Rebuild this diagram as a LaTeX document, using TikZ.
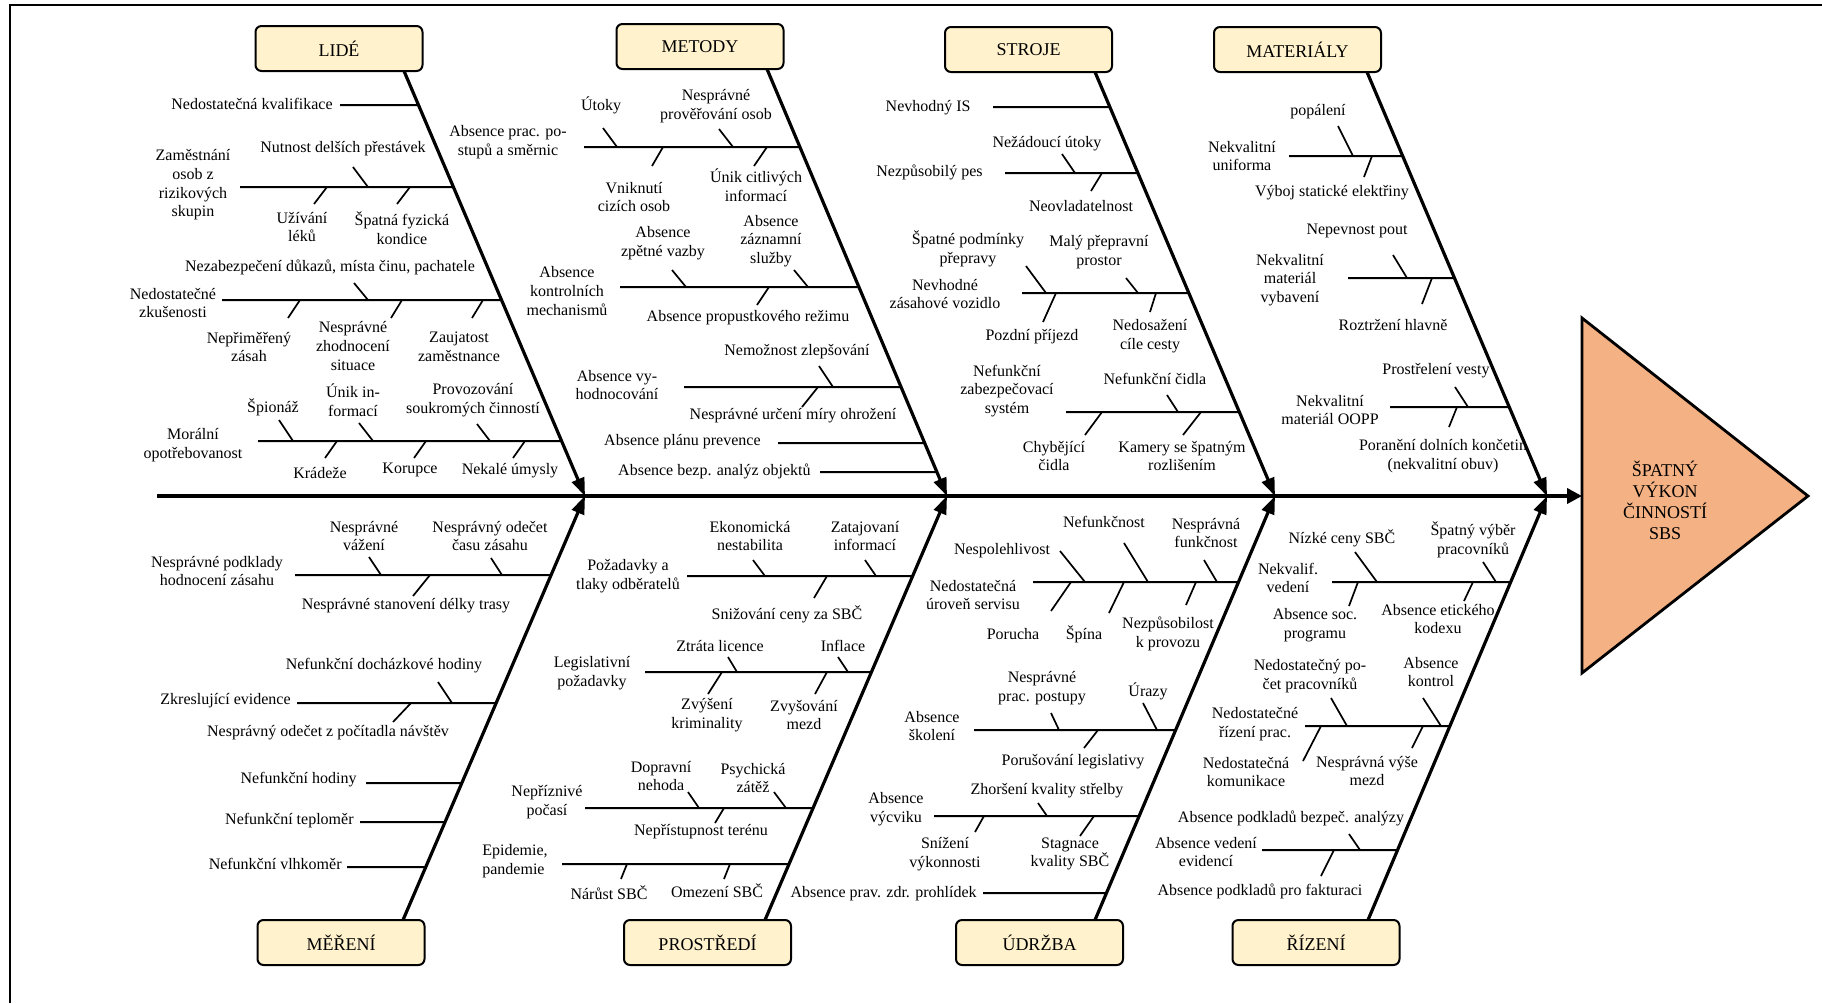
\documentclass[tikz,border=0pt]{standalone}
\usepackage{fontspec}
\setmainfont{Liberation Serif}
\usetikzlibrary{arrows.meta}
\definecolor{boxfill}{HTML}{FFF2CC}
\definecolor{headfill}{HTML}{F4B183}
\newcommand\subbone[3]{\draw[sub] (#1,#2) -- (intersection of #1,#2--1900,#2 and #3);}
\begin{document}
\begin{tikzpicture}[x=0.5pt,y=-0.5pt,
 lab/.style={inner sep=0pt, align=center, font=\fontsize{8}{9.35}\selectfont},
 cat/.style={draw=black, line width=1pt, rounded corners=3pt, fill=boxfill, minimum width=83.5pt, minimum height=22.5pt, inner sep=0pt, font=\fontsize{9}{10.5}\selectfont},
 bone/.style={line width=1.6pt, -{Triangle[length=9pt,width=6.5pt]}},
 spine/.style={line width=2.1pt, -{Triangle[length=7.5pt,width=7.5pt]}},
 sub/.style={line width=1pt},
 tick/.style={line width=0.85pt},
]
\useasboundingbox (0,0) rectangle (1822,1003);
\draw[line width=1pt] (10,1003) -- (10,5) -- (1822,5);

% head
\draw[line width=1.4pt, fill=headfill] (1582,318) -- (1808,496) -- (1582,673) -- cycle;
\node[font=\fontsize{9}{10.5}\selectfont, align=center, inner sep=0pt] (headtxt) at (1665,500) {ŠPATNÝ\\VÝKON\\ČINNOSTÍ\\SBS};

% spine
\coordinate (sp0) at (157,496);
\coordinate (headW) at (1582,496);
\draw[spine] (sp0) -- (headW);

% bone coordinates
\coordinate (lA) at (404,71);   \coordinate (lT) at (585,496);
\coordinate (mA) at (767,69);   \coordinate (mT) at (947,496);
\coordinate (sA) at (1095,72);  \coordinate (sT) at (1275,496);
\coordinate (tA) at (1367,72);  \coordinate (tT) at (1547,496);
\coordinate (eA) at (403,920);  \coordinate (eT) at (585,496);
\coordinate (pA) at (765,920);  \coordinate (pT) at (947,496);
\coordinate (uA) at (1095,920); \coordinate (uT) at (1275,496);
\coordinate (rA) at (1368,920); \coordinate (rT) at (1547,496);

\draw[bone] (lA) -- (lT);
\draw[bone] (mA) -- (mT);
\draw[bone] (sA) -- (sT);
\draw[bone] (tA) -- (tT);
\draw[bone] (eA) -- (eT);
\draw[bone] (pA) -- (pT);
\draw[bone] (uA) -- (uT);
\draw[bone] (rA) -- (rT);

% category boxes
\node[cat] (lide) at (339,48.5) {LIDÉ};
\node[cat] (metody) at (700,46.5) {METODY};
\node[cat] (stroje) at (1028.5,49.5) {STROJE};
\node[cat] (material) at (1297.5,49.5) {MATERIÁLY};
\node[cat] (mereni) at (341,942.5) {MĚŘENÍ};
\node[cat] (prostredi) at (707.5,942.5) {PROSTŘEDÍ};
\node[cat] (udrzba) at (1039.5,942.5) {ÚDRŽBA};
\node[cat] (rizeni) at (1316,942.5) {ŘÍZENÍ};

% ===== LIDÉ =====
\subbone{340}{105}{lA--lT}
\node[lab,anchor=east] (l1) at (333,104) {Nedostatečná kvalifikace};
\subbone{240}{187}{lA--lT}
\node[lab] (l2) at (193,185) {Zaměstnání\\osob z\\rizikových\\skupin};
\draw[tick] (353,167) -- (368,187); \node[lab] (l2a) at (343,149) {Nutnost delších přestávek};
\draw[tick] (327,187) -- (314,204); \node[lab] (l2b) at (302,227) {Užívání\\léků};
\draw[tick] (410,187) -- (397,204); \node[lab] (l2c) at (402,228) {Špatná fyzická\\kondice};
\subbone{222}{300}{lA--lT}
\node[lab] (l3) at (173,303) {Nedostatečné\\zkušenosti};
\draw[tick] (354,283) -- (368,300); \node[lab] (l3a) at (330,267) {Nezabezpečení důkazů, místa činu, pachatele};
\draw[tick] (300,300) -- (288,318); \node[lab] (l3b) at (249,347) {Nepřiměřený\\zásah};
\draw[tick] (402,300) -- (391,318); \node[lab] (l3c) at (353,346) {Nesprávné\\zhodnocení\\situace};
\draw[tick] (483,300) -- (472,318); \node[lab] (l3d) at (459,347) {Zaujatost\\zaměstnance};
\subbone{258}{441}{lA--lT}
\node[lab] (l4) at (193,445) {Morální\\opotřebovanost};
\draw[tick] (279,420) -- (293,441); \node[lab] (l4a) at (273,407) {Špionáž};
\draw[tick] (359,423) -- (373,441); \node[lab] (l4b) at (353,400) {Únik in-\\formací};
\draw[tick] (477,424) -- (490,441); \node[lab] (l4c) at (473,400) {Provozování\\soukromých činností};
\draw[tick] (337,441) -- (325,458); \node[lab] (l4d) at (320,473) {Krádeže};
\draw[tick] (426,441) -- (414,458); \node[lab] (l4e) at (410,470) {Korupce};
\draw[tick] (525,441) -- (513,458); \node[lab] (l4f) at (510,471) {Nekalé úmysly};

% ===== METODY =====
\subbone{584}{147}{mA--mT}
\node[lab] (m1) at (508,142) {Absence prac. po-\\stupů a směrnic};
\draw[tick] (603,128) -- (617,147); \node[lab] (m1a) at (601,105) {Útoky};
\draw[tick] (719,129) -- (733,147); \node[lab] (m1b) at (716,106) {Nesprávné\\prověřování osob};
\draw[tick] (663,147) -- (652,166); \node[lab] (m1c) at (634,197) {Vniknutí\\cizích osob};
\draw[tick] (767,147) -- (754,166); \node[lab] (m1d) at (756,185) {Únik citlivých\\informací};
\subbone{620}{287}{mA--mT}
\node[lab] (m2) at (567,291) {Absence\\kontrolních\\mechanismů};
\draw[tick] (672,270) -- (686,287); \node[lab] (m2a) at (663,243) {Absence\\zpětné vazby};
\draw[tick] (794,270) -- (808,287); \node[lab] (m2b) at (771,241) {Absence\\záznamní\\služby};
\draw[tick] (769,287) -- (757,305); \node[lab] (m2c) at (748,318) {Absence propustkového režimu};
\subbone{684}{387}{mA--mT}
\node[lab] (m3) at (617,385) {Absence vy-\\hodnocování};
\draw[tick] (819,366) -- (833,387); \node[lab] (m3a) at (797,352) {Nemožnost zlepšování};
\draw[tick] (818,387) -- (802,407); \node[lab] (m3b) at (793,416) {Nesprávné určení míry ohrožení};
\subbone{778}{443}{mA--mT}
\node[lab,anchor=east] (m4) at (761,442) {Absence plánu prevence};
\subbone{820}{472}{mA--mT}
\node[lab,anchor=east] (m5) at (811,471) {Absence bezp. analýz objektů};

% ===== STROJE =====
\subbone{993}{107}{sA--sT}
\node[lab,anchor=east] (s1) at (971,108) {Nevhodný IS};
\subbone{1005}{173}{sA--sT}
\node[lab,anchor=east] (s2) at (983,172) {Nezpůsobilý pes};
\draw[tick] (1062,154) -- (1075,173); \node[lab] (s2a) at (1047,144) {Nežádoucí útoky};
\draw[tick] (1102,173) -- (1091,191); \node[lab] (s2b) at (1081,206) {Neovladatelnost};
\subbone{1022}{293}{sA--sT}
\node[lab] (s3) at (945,294) {Nevhodné\\zásahové vozidlo};
\draw[tick] (1026,266) -- (1046,293); \node[lab] (s3a) at (968,249) {Špatné podmínky\\přepravy};
\draw[tick] (1126,278) -- (1138,293); \node[lab] (s3b) at (1099,252) {Malý přepravní\\prostor};
\draw[tick] (1056,293) -- (1043,322); \node[lab] (s3c) at (1032,337) {Pozdní příjezd};
\draw[tick] (1156,293) -- (1150,312); \node[lab] (s3d) at (1150,336) {Nedosažení\\cíle cesty};
\subbone{1066}{412}{sA--sT}
\node[lab] (s4) at (1007,391) {Nefunkční\\zabezpečovací\\systém};
\draw[tick] (1167,395) -- (1178,412); \node[lab] (s4a) at (1155,379) {Nefunkční čidla};
\draw[tick] (1102,412) -- (1085,435); \node[lab] (s4b) at (1054,456) {Chybějící\\čidla};
\draw[tick] (1201,412) -- (1183,435); \node[lab] (s4c) at (1182,456) {Kamery se špatným\\rozlišením};

% ===== MATERIÁLY =====
\subbone{1289}{156}{tA--tT}
\node[lab] (t1) at (1242,156) {Nekvalitní\\uniforma};
\draw[tick] (1338,126) -- (1353,156); \node[lab] (t1a) at (1318,112) {popálení};
\draw[tick] (1372,156) -- (1364,177); \node[lab] (t1b) at (1332,193) {Výboj statické elektřiny};
\subbone{1348}{278}{tA--tT}
\node[lab] (t2) at (1290,280) {Nekvalitní\\materiál\\vybavení};
\draw[tick] (1393,255) -- (1407,278); \node[lab] (t2a) at (1357,231) {Nepevnost pout};
\draw[tick] (1432,278) -- (1422,304); \node[lab] (t2b) at (1393,325) {Roztržení hlavně};
\subbone{1390}{407}{tA--tT}
\node[lab] (t3) at (1330,410) {Nekvalitní\\materiál OOPP};
\draw[tick] (1455,387) -- (1468,407); \node[lab] (t3a) at (1436,371) {Prostřelení vesty};
\draw[tick] (1457,407) -- (1449,427); \node[lab] (t3b) at (1443,456) {Poranění dolních končetin\\(nekvalitní obuv)};

% ===== MĚŘENÍ =====
\subbone{295}{575}{eA--eT}
\node[lab] (e1) at (217,571) {Nesprávné podklady\\hodnocení zásahu};
\draw[tick] (369,557) -- (381,575); \node[lab] (e1a) at (364,536) {Nesprávné\\vážení};
\draw[tick] (491,558) -- (502,575); \node[lab] (e1b) at (490,536) {Nesprávný odečet\\času zásahu};
\draw[tick] (430,575) -- (413,596); \node[lab] (e1c) at (406,606) {Nesprávné stanovení délky trasy};
\subbone{297}{703}{eA--eT}
\node[lab,anchor=east] (e2) at (291,701) {Zkreslující evidence};
\draw[tick] (438,682) -- (452,703); \node[lab] (e2a) at (384,666) {Nefunkční docházkové hodiny};
\draw[tick] (411,703) -- (393,722); \node[lab] (e2b) at (328,733) {Nesprávný odečet z počítadla návštěv};
\subbone{366}{783}{eA--eT}
\node[lab,anchor=east] (e3) at (357,780) {Nefunkční hodiny};
\subbone{360}{822}{eA--eT}
\node[lab,anchor=east] (e4) at (354,821) {Nefunkční teploměr};
\subbone{347}{867}{eA--eT}
\node[lab,anchor=east] (e5) at (342,864) {Nefunkční vlhkoměr};

% ===== PROSTŘEDÍ =====
\subbone{687}{576}{pA--pT}
\node[lab] (p1) at (628,576) {Požadavky a\\tlaky odběratelů};
\draw[tick] (753,560) -- (765,576); \node[lab] (p1a) at (750,536) {Ekonomická\\nestabilita};
\draw[tick] (865,560) -- (876,576); \node[lab] (p1b) at (865,536) {Zatajovaní\\informací};
\draw[tick] (827,576) -- (814,598); \node[lab] (p1c) at (787,614) {Snižování ceny za SBČ};
\subbone{645}{672}{pA--pT}
\node[lab] (p2) at (592,673) {Legislativní\\požadavky};
\draw[tick] (728,657) -- (737,672); \node[lab] (p2a) at (720,646) {Ztráta licence};
\draw[tick] (838,657) -- (848,672); \node[lab] (p2b) at (843,646) {Inflace};
\draw[tick] (722,672) -- (708,694); \node[lab] (p2c) at (707,715) {Zvýšení\\kriminality};
\draw[tick] (827,672) -- (815,694); \node[lab] (p2d) at (804,715) {Zvyšování\\mezd};
\subbone{585}{808}{pA--pT}
\node[lab] (p3) at (547,802) {Nepříznivé\\počasí};
\draw[tick] (688,792) -- (699,808); \node[lab] (p3a) at (661,776) {Dopravní\\nehoda};
\draw[tick] (774,792) -- (786,808); \node[lab] (p3b) at (753,778) {Psychická\\zátěž};
\draw[tick] (724,808) -- (715,823); \node[lab] (p3c) at (701,832) {Nepřístupnost terénu};
\subbone{562}{864}{pA--pT}
\node[lab,align=left] (p4) at (515,861) {Epidemie,\\pandemie};
\draw[tick] (627,864) -- (621,879); \node[lab] (p4a) at (609,893) {Nárůst SBČ};
\draw[tick] (730,864) -- (724,879); \node[lab] (p4b) at (717,891) {Omezení SBČ};

% ===== ÚDRŽBA =====
\subbone{1033}{582}{uA--uT}
\node[lab] (u1) at (973,595) {Nedostatečná\\úroveň servisu};
\draw[tick] (1060,551) -- (1085,582); \node[lab] (u1a) at (1002,551) {Nespolehlivost};
\draw[tick] (1124,543) -- (1148,582); \node[lab] (u1b) at (1104,522) {Nefunkčnost};
\draw[tick] (1204,560) -- (1217,582); \node[lab] (u1c) at (1206,533) {Nesprávná\\funkčnost};
\draw[tick] (1071,582) -- (1051,611); \node[lab] (u1d) at (1013,634) {Porucha};
\draw[tick] (1124,582) -- (1109,613); \node[lab] (u1e) at (1084,634) {Špína};
\draw[tick] (1196,582) -- (1186,605); \node[lab] (u1f) at (1168,634) {Nezpůsobilost\\k provozu};
\subbone{974}{730}{uA--uT}
\node[lab] (u2) at (932,726) {Absence\\školení};
\draw[tick] (1051,713) -- (1059,730); \node[lab] (u2a) at (1042,688) {Nesprávné\\prac. postupy};
\draw[tick] (1143,703) -- (1157,730); \node[lab] (u2b) at (1148,691) {Úrazy};
\draw[tick] (1098,730) -- (1084,748); \node[lab] (u2c) at (1073,762) {Porušování legislativy};
\subbone{934}{816}{uA--uT}
\node[lab] (u3) at (896,809) {Absence\\výcviku};
\draw[tick] (1038,803) -- (1047,816); \node[lab] (u3a) at (1047,791) {Zhoršení kvality střelby};
\draw[tick] (984,816) -- (975,832); \node[lab] (u3b) at (945,854) {Snížení\\výkonnosti};
\draw[tick] (1094,816) -- (1080,836); \node[lab] (u3c) at (1070,854) {Stagnace\\kvality SBČ};
\subbone{983}{893}{uA--uT}
\node[lab,anchor=east] (u4) at (977,894) {Absence prav. zdr. prohlídek};

% ===== ŘÍZENÍ =====
\subbone{1332}{582}{rA--rT}
\node[lab] (r1) at (1288,578) {Nekvalif.\\vedení};
\draw[tick] (1355,552) -- (1377,582); \node[lab] (r1a) at (1342,538) {Nízké ceny SBČ};
\draw[tick] (1483,562) -- (1496,582); \node[lab] (r1b) at (1473,540) {Špatný výběr\\pracovníků};
\draw[tick] (1358,582) -- (1349,606); \node[lab] (r1c) at (1315,625) {Absence soc.\\programu};
\draw[tick] (1473,582) -- (1464,601); \node[lab] (r1d) at (1438,619) {Absence etického\\kodexu};
\subbone{1305}{726}{rA--rT}
\node[lab] (r2) at (1255,724) {Nedostatečné\\řízení prac.};
\draw[tick] (1331,698) -- (1347,726); \node[lab] (r2a) at (1310,676) {Nedostatečný po-\\čet pracovníků};
\draw[tick] (1423,698) -- (1441,726); \node[lab] (r2b) at (1431,672) {Absence\\kontrol};
\draw[tick] (1321,726) -- (1303,761); \node[lab] (r2c) at (1246,772) {Nedostatečná\\komunikace};
\draw[tick] (1423,726) -- (1412,748); \node[lab] (r2d) at (1367,771) {Nesprávná výše\\mezd};
\subbone{1262}{850}{rA--rT}
\node[lab] (r3) at (1206,852) {Absence vedení\\evidencí};
\draw[tick] (1349,834) -- (1360,850); \node[lab] (r3a) at (1291,818) {Absence podkladů bezpeč. analýzy};
\draw[tick] (1334,850) -- (1321,876); \node[lab] (r3b) at (1260,891) {Absence podkladů pro fakturaci};
\end{tikzpicture}
\end{document}
